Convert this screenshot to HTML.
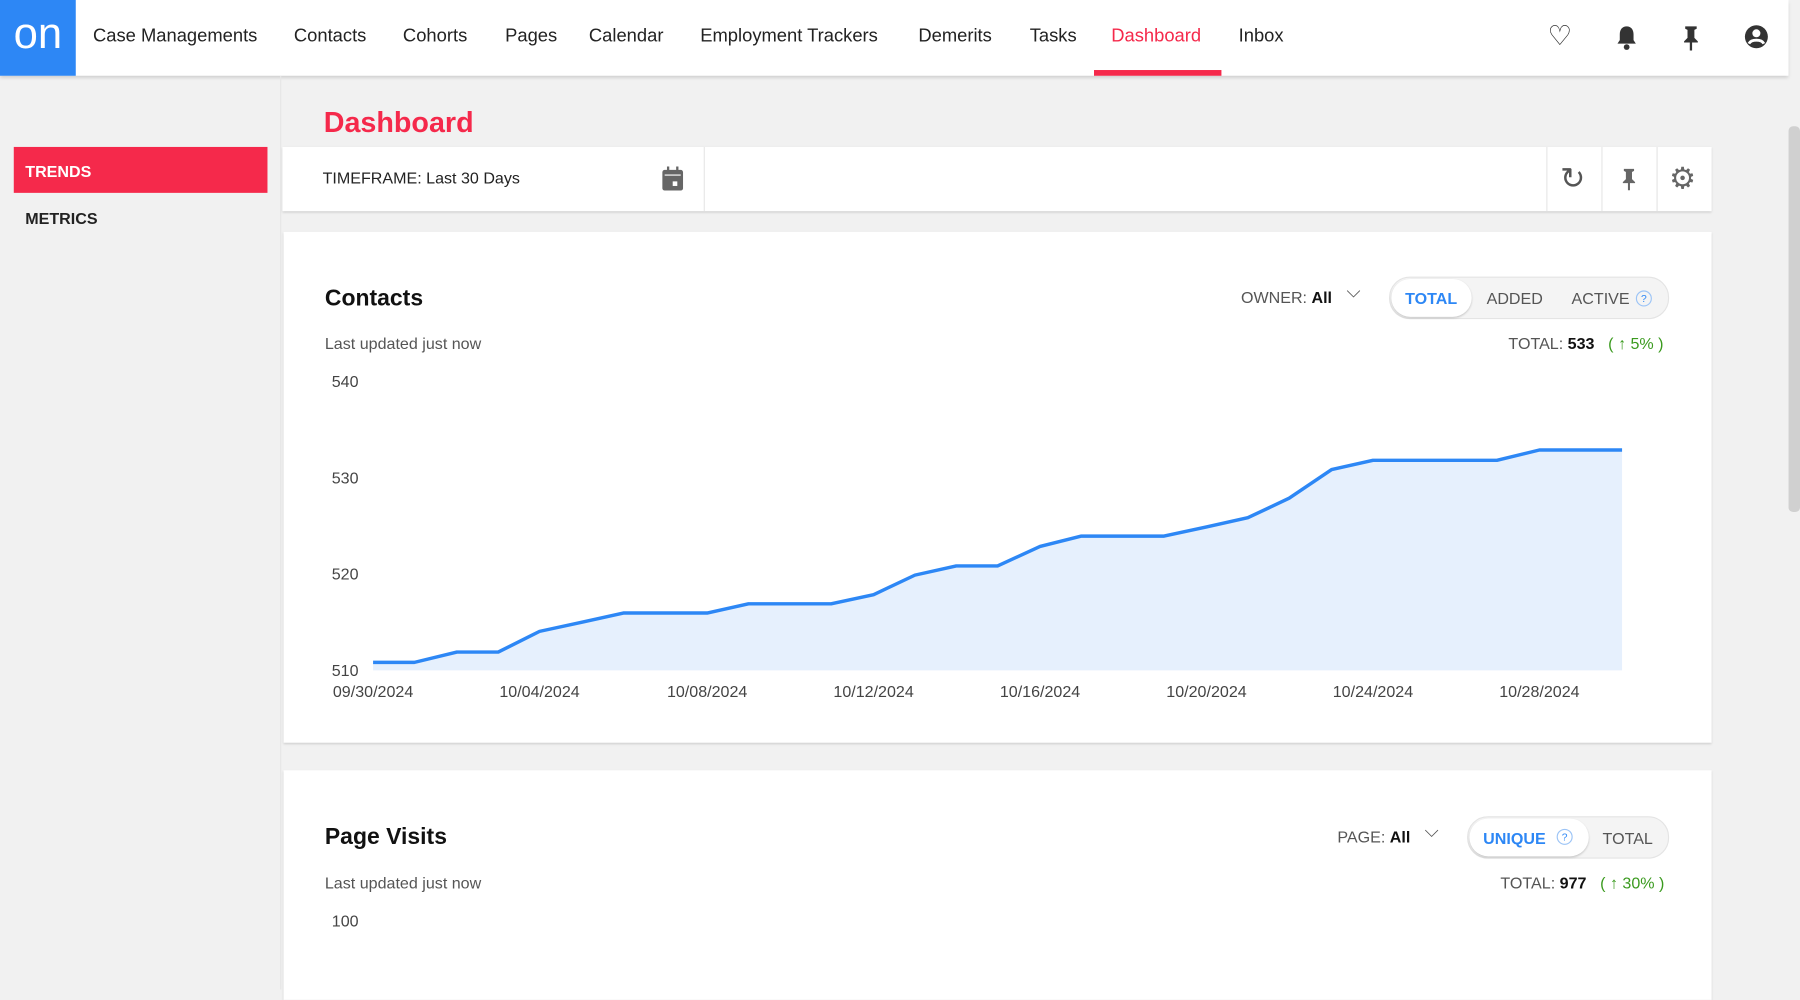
<!DOCTYPE html>
<html><head><meta charset="utf-8"><style>
html,body{margin:0;padding:0;width:1800px;height:990px;overflow:hidden;background:#f1f1f1;font-family:"Liberation Sans",sans-serif;}
#w{position:absolute;left:0;top:0;width:1568px;height:862px;transform:scale(1.14796);transform-origin:0 0;background:#f1f1f1;}
.a{position:absolute;white-space:nowrap;}
.nav{position:absolute;left:0;top:0;width:1558px;height:66px;background:#fff;box-shadow:0 2px 3px rgba(0,0,0,.15);}
.nav .it{position:absolute;top:23px;font-size:16px;color:#222;}
.card{position:absolute;background:#fff;box-shadow:0 1px 2px rgba(0,0,0,.15);}
.g{color:#555;}
</style></head><body><div id="w">
<div class="nav">
<div class="a" style="left:0;top:0;width:66px;height:66px;background:#2d87f5;color:#fff;font-size:38px;line-height:60px;text-align:center;">on</div>
<span class="it" style="left:81px">Case Managements</span>
<span class="it" style="left:256px">Contacts</span>
<span class="it" style="left:351px">Cohorts</span>
<span class="it" style="left:440px">Pages</span>
<span class="it" style="left:513px">Calendar</span>
<span class="it" style="left:610px">Employment Trackers</span>
<span class="it" style="left:800px">Demerits</span>
<span class="it" style="left:897px">Tasks</span>
<span class="it" style="left:968px;color:#f5294b">Dashboard</span>
<div class="a" style="left:953px;top:61px;width:111px;height:5px;background:#f5294b"></div>
<span class="it" style="left:1079px">Inbox</span>
<span class="it" style="left:1348px;font-size:24px;top:17px;color:#333">♡</span>
<svg class="a" style="left:1406px;top:21px" width="22" height="24" viewBox="0 0 22 24"><path d="M11 2c-4 0-6 3-6 7v5l-2 3h16l-2-3V9c0-4-2-7-6-7z" fill="#333"/><circle cx="11" cy="20" r="2.5" fill="#333"/></svg>
<svg class="a" style="left:1464px;top:21px" width="18" height="24" viewBox="0 0 18 24"><path d="M4 2h10v2l-2 1v7l3 3v1H3v-1l3-3V5L4 4z M8 16h2v7H8z" fill="#333"/></svg>
<svg class="a" style="left:1519px;top:21px" width="22" height="22" viewBox="0 0 22 22"><circle cx="11" cy="11" r="10" fill="#333"/><circle cx="11" cy="8" r="3.5" fill="#fff"/><path d="M4.5 17c2-4 11-4 13 0" stroke="#fff" stroke-width="2.5" fill="none"/></svg>
</div>
<div class="a" style="left:1558px;top:110px;width:10px;height:336px;background:#d0d0d0;border-radius:4px"></div>
<div class="a" style="left:244px;top:66px;width:1px;height:796px;background:#e6e6e6"></div>
<div class="a" style="left:12px;top:128px;width:221px;height:40px;background:#f5294b;color:#fff;font-size:14px;font-weight:bold;line-height:42px;"><span style="padding-left:10px">TRENDS</span></div>
<div class="a" style="left:22px;top:182px;font-size:14px;font-weight:bold;color:#222">METRICS</div>
<div class="a" style="left:282px;top:93px;font-size:25px;font-weight:bold;color:#f5294b">Dashboard</div>
<div class="card" style="left:246px;top:128px;width:1245px;height:56px;">
<div class="a" style="left:35px;top:19px;font-size:14px;color:#222">TIMEFRAME: Last 30 Days</div>
<svg class="a" style="left:330px;top:17px" width="20" height="22" viewBox="0 0 20 22"><rect x="1" y="3" width="18" height="18" rx="2" fill="#666"/><rect x="5" y="0" width="2" height="4" fill="#666"/><rect x="13" y="0" width="2" height="4" fill="#666"/><rect x="3" y="7" width="14" height="1" fill="#fff"/><rect x="10" y="13" width="4" height="4" fill="#fff"/></svg>
<div class="a" style="left:367px;top:0;width:1px;height:56px;background:#e6e6e6"></div>
<div class="a" style="left:1101px;top:0;width:1px;height:56px;background:#e6e6e6"></div>
<div class="a" style="left:1149px;top:0;width:1px;height:56px;background:#e6e6e6"></div>
<div class="a" style="left:1197px;top:0;width:1px;height:56px;background:#e6e6e6"></div>
<span class="a" style="left:1113px;top:12px;font-size:26px;color:#555">↻</span>
<svg class="a" style="left:1165px;top:17px" width="16" height="22" viewBox="0 0 18 24"><path d="M4 2h10v2l-2 1v7l3 3v1H3v-1l3-3V5L4 4z M8 16h2v7H8z" fill="#666"/></svg>
<span class="a" style="left:1208px;top:12px;font-size:26px;color:#666">⚙</span>
</div>
<div class="card" style="left:247px;top:202px;width:1244px;height:445px;">
<div class="a" style="left:36px;top:47px;font-size:20px;font-weight:bold;color:#111">Contacts</div>
<div class="a g" style="left:36px;top:89px;font-size:14px">Last updated just now</div>
<div class="a g" style="left:834px;top:49px;font-size:14px">OWNER: <b style="color:#111">All</b></div>
<span class="a" style="left:926px;top:44px;font-size:16px;color:#555">⌵</span>
<div class="a" style="left:963px;top:39px;width:242px;height:35px;border-radius:18px;background:#f4f4f4;border:1px solid #e4e4e4"></div>
<div class="a" style="left:965px;top:41px;width:70px;height:33px;border-radius:17px;background:#fff;box-shadow:0 1px 2px rgba(0,0,0,.2)"></div>
<div class="a" style="left:977px;top:50px;font-size:14px;font-weight:bold;color:#2d87f5">TOTAL</div>
<div class="a g" style="left:1048px;top:50px;font-size:14px">ADDED</div>
<div class="a g" style="left:1122px;top:50px;font-size:14px">ACTIVE</div>
<div class="a" style="left:1178px;top:51px;width:12px;height:12px;border:1px solid #9cc4f6;border-radius:50%;font-size:9px;color:#2d87f5;text-align:center;line-height:12px">?</div>
<div class="a g" style="left:1067px;top:89px;font-size:14px">TOTAL: <b style="color:#111">533</b> <span style="color:#3a9a1e;margin-left:8px">( ↑ 5% )</span></div>
</div>
<svg class="a" style="left:0;top:0" width="1568" height="862">
<g font-size="14" fill="#444" font-family="Liberation Sans,sans-serif">
<text x="289" y="337">540</text><text x="289" y="421">530</text><text x="289" y="505">520</text><text x="289" y="589">510</text>
<g text-anchor="middle"><text x="325" y="607">09/30/2024</text><text x="470" y="607">10/04/2024</text><text x="616" y="607">10/08/2024</text><text x="761" y="607">10/12/2024</text><text x="906" y="607">10/16/2024</text><text x="1051" y="607">10/20/2024</text><text x="1196" y="607">10/24/2024</text><text x="1341" y="607">10/28/2024</text></g>
</g>
<path d="M325 577L361 577L398 568L434 568L470 550L507 542L543 534L580 534L616 534L652 526L688 526L724 526L761 518L797 501L833 493L869 493L906 476L942 467L978 467L1014 467L1051 459L1087 451L1123 434L1160 409L1196 401L1232 401L1268 401L1304 401L1341 392L1377 392L1413 392L1413 584L325 584Z" fill="#e6f0fd"/>
<path d="M325 577L361 577L398 568L434 568L470 550L507 542L543 534L580 534L616 534L652 526L688 526L724 526L761 518L797 501L833 493L869 493L906 476L942 467L978 467L1014 467L1051 459L1087 451L1123 434L1160 409L1196 401L1232 401L1268 401L1304 401L1341 392L1377 392L1413 392" fill="none" stroke="#2d87f5" stroke-width="3" stroke-linejoin="round"/>
</svg>
<div class="card" style="left:247px;top:671px;width:1244px;height:200px;">
<div class="a" style="left:36px;top:47px;font-size:20px;font-weight:bold;color:#111">Page Visits</div>
<div class="a g" style="left:36px;top:90px;font-size:14px">Last updated just now</div>
<div class="a" style="left:42px;top:123px;font-size:14px;color:#444">100</div>
<div class="a g" style="left:918px;top:50px;font-size:14px">PAGE: <b style="color:#111">All</b></div>
<span class="a" style="left:994px;top:45px;font-size:16px;color:#555">⌵</span>
<div class="a" style="left:1031px;top:40px;width:174px;height:35px;border-radius:18px;background:#f4f4f4;border:1px solid #e4e4e4"></div>
<div class="a" style="left:1033px;top:42px;width:104px;height:33px;border-radius:17px;background:#fff;box-shadow:0 1px 2px rgba(0,0,0,.2)"></div>
<div class="a" style="left:1045px;top:51px;font-size:14px;font-weight:bold;color:#2d87f5">UNIQUE</div>
<div class="a" style="left:1109px;top:51px;width:12px;height:12px;border:1px solid #9cc4f6;border-radius:50%;font-size:9px;color:#2d87f5;text-align:center;line-height:12px">?</div>
<div class="a g" style="left:1149px;top:51px;font-size:14px">TOTAL</div>
<div class="a g" style="left:1060px;top:90px;font-size:14px">TOTAL: <b style="color:#111">977</b> <span style="color:#3a9a1e;margin-left:8px">( ↑ 30% )</span></div>
</div>
</div></body></html>
